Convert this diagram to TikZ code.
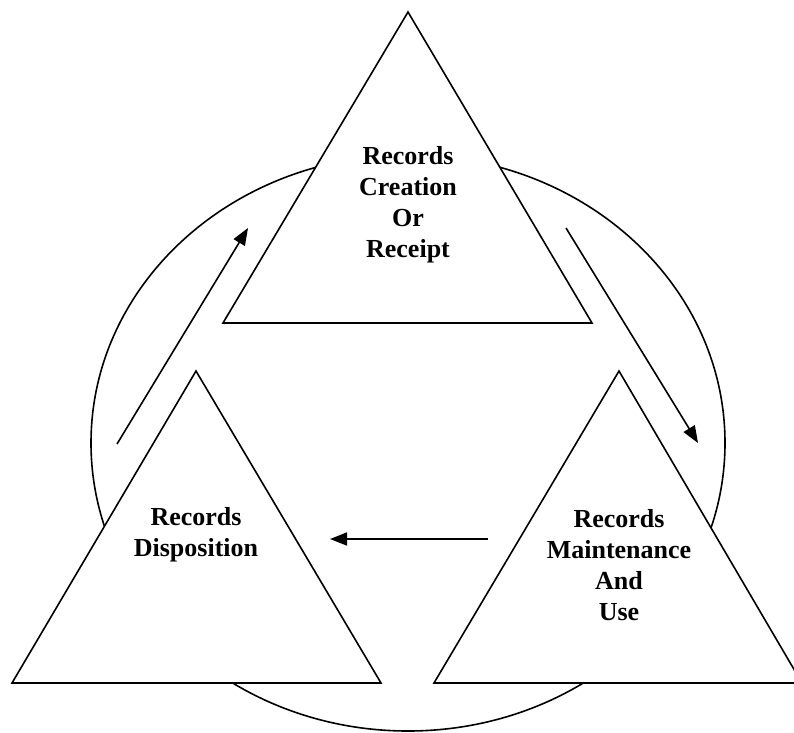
\documentclass[tikz,border=0pt]{standalone}
\usepackage{fontspec}
\setmainfont{Liberation Serif}
\usetikzlibrary{arrows.meta}
\begin{document}
\begin{tikzpicture}[x=1pt,y=-1pt,
  tri/.style={draw=black,fill=white,line width=1.6pt,line join=miter},
  ring/.style={draw=black,line width=1.6pt},
  flow/.style={draw=black,line width=1.6pt,-{Triangle[length=17pt,width=13pt]}},
  lbl/.style={font=\fontsize{26}{31}\selectfont\bfseries,align=center,inner sep=0pt}]
\useasboundingbox (0,0) rectangle (794,732);
\draw[ring] (408,443) ellipse [x radius=317, y radius=288];
\draw[tri] (408,12) -- (592,323) -- (223,323) -- cycle;
\draw[tri] (196,371) -- (381,683) -- (12,683) -- cycle;
\draw[tri] (619,371) -- (802,683) -- (434,683) -- cycle;
\node[lbl] (creation) at (408,205) {Records\\Creation\\Or\\Receipt};
\node[lbl] (disposition) at (196,535) {Records\\Disposition};
\node[lbl] (maintenance) at (619,565) {Records\\Maintenance\\And\\Use};
\coordinate (a1s) at (117,444); \coordinate (a1e) at (248,228);
\coordinate (a2s) at (566,228); \coordinate (a2e) at (698,443);
\coordinate (a3s) at (488,539); \coordinate (a3e) at (330,539);
\draw[flow] (a1s) -- (a1e);
\draw[flow] (a2s) -- (a2e);
\draw[flow] (a3s) -- (a3e);
\end{tikzpicture}
\end{document}
